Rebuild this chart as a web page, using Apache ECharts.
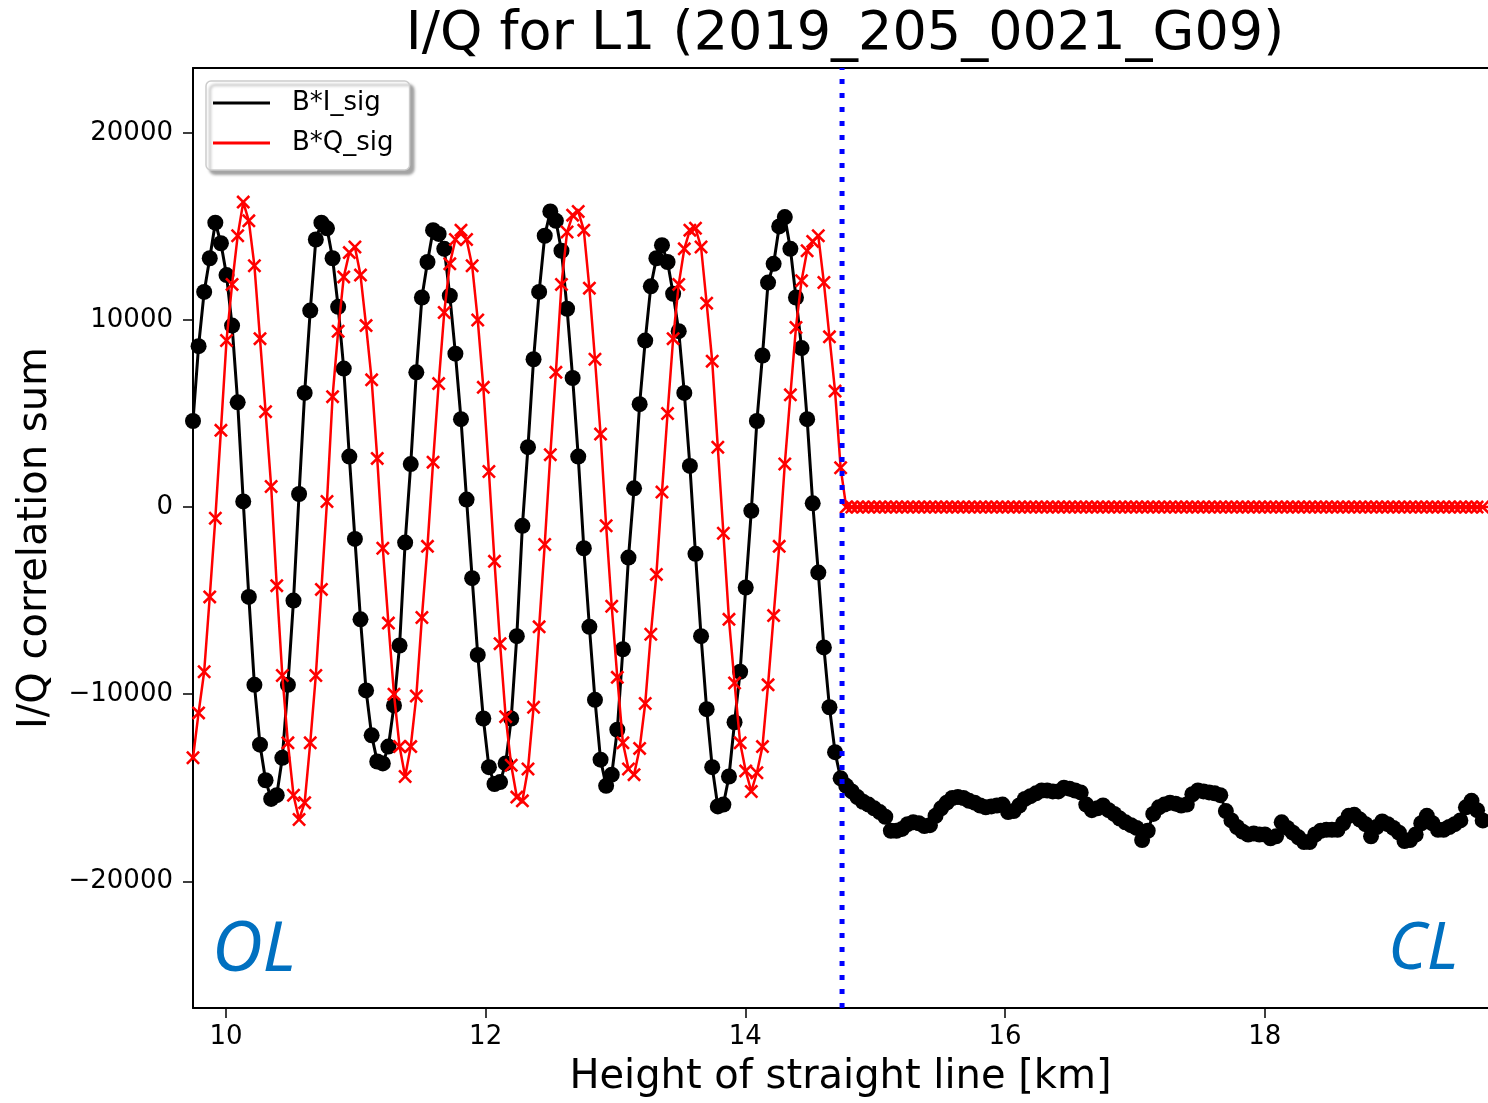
<!DOCTYPE html>
<html>
<head>
<meta charset="utf-8">
<script src="https://cdn.jsdelivr.net/npm/echarts/dist/echarts.min.js"></script>
<style>
html,body{margin:0;padding:0;background:#ffffff;}
#chart{width:1488px;height:1103px;}
</style>
</head>
<body>
<div id="chart"></div>
<script>
// ---------------- data ----------------
const titleText = 'I/Q for L1 (2019_205_0021_G09)';
const xAxisName = 'Height of straight line [km]';
const yAxisName = 'I/Q correlation sum';
const seriesNames = ['B*I_sig', 'B*Q_sig'];
const regionLabels = ['OL', 'CL'];
const xTickValues = [10, 12, 14, 16, 18];
const yTickValues = [-20000, -10000, 0, 10000, 20000];
const xLimits = [9.746, 19.72];
const yLimits = [-26773, 23467];
// samples are on a uniform height grid
const heightStart = 9.746;
const heightStep = 0.0430;
const loopSwitchHeight = 14.745;

// B*I_sig, open loop part (before the switch)
const iSigOpenLoop = [
  4600, 8600, 11500, 13300, 15200, 14100, 12400, 9700, 5600, 300,
  -4800, -9500, -12700, -14600, -15600, -15400, -13400, -9500, -5000, 700,
  6100, 10500, 14300, 15200, 14900, 13300, 10700, 7400, 2700, -1700,
  -6000, -9800, -12200, -13600, -13700, -12800, -10600, -7400, -1900, 2300,
  7200, 11200, 13100, 14800, 14600, 13800, 11300, 8200, 4700, 400,
  -3800, -7900, -11300, -13900, -14800, -14700, -13700, -11300, -6900, -1000,
  3200, 7900, 11500, 14500, 15800, 15300, 13700, 10600, 6900, 2700,
  -2200, -6400, -10300, -13500, -14900, -14300, -11900, -7600, -2700, 1000,
  5500, 8900, 11800, 13300, 14000, 13100, 11400, 9400, 6100, 2200,
  -2500, -6900, -10800, -13900, -16000, -15900, -14400, -11500, -8800, -4300,
  -200, 4600, 8100, 12000, 13000, 15000, 15500, 13800, 11200, 8500,
  4700, 200, -3500, -7500, -10700, -13100, -14500
];
// B*I_sig, closed loop part (after the switch)
const iSigClosedLoop = [
  -14900, -15200, -15500, -15750, -15900, -16100, -16300, -16550, -17300, -17300,
  -17200, -16950, -16850, -16900, -17050, -17000, -16500, -16100, -15800, -15550,
  -15500, -15550, -15700, -15800, -15950, -16050, -16000, -15950, -15900, -16300,
  -16250, -15950, -15600, -15450, -15300, -15150, -15150, -15200, -15200, -15000,
  -15050, -15150, -15250, -15900, -16200, -16100, -15950, -16200, -16400, -16650,
  -16850, -17000, -17150, -17800, -17300, -16400, -16050, -15900, -15800, -15850,
  -15950, -15900, -15350, -15150, -15200, -15250, -15300, -15400, -16250, -16750,
  -17100, -17350, -17500, -17450, -17500, -17500, -17700, -17600, -16850, -17150,
  -17400, -17650, -17900, -17900, -17500, -17300, -17250, -17250, -17250, -16900,
  -16500, -16450, -16700, -16950, -17600, -17100, -16800, -16950, -17150, -17400,
  -17850, -17800, -17500, -16900, -16500, -16900, -17250, -17250, -17100, -16950,
  -16750, -16050, -15700, -16200, -16750, -16900
];
// B*Q_sig, open loop part
const qSigOpenLoop = [
  -13400, -11000, -8800, -4800, -600, 4100, 8900, 11900, 14500, 16300,
  15300, 12900, 9000, 5100, 1100, -4200, -9000, -12600, -15400, -16700,
  -15800, -12600, -9000, -4400, 300, 5900, 9400, 12300, 13600, 13900,
  12400, 9700, 6800, 2600, -2200, -6200, -10000, -12800, -14400, -12800,
  -10100, -5900, -2100, 2400, 6600, 10400, 13000, 14300, 14800, 14300,
  12900, 10000, 6400, 1900, -2900, -7300, -11200, -13800, -15500, -15700,
  -14000, -10700, -6400, -2000, 2800, 7200, 11900, 14700, 15600, 15800,
  14800, 11700, 7900, 3900, -1000, -5300, -9100, -12600, -14000, -14300,
  -12900, -10500, -6800, -3600, 800, 5000, 9000, 11900, 13800, 14800,
  14900, 13900, 10900, 7800, 3200, -1400, -6000, -9400, -12600, -14100,
  -15200, -14200, -12800, -9500, -5800, -2100, 2300, 6000, 9600, 12100,
  13700, 14200, 14500, 12000, 9100, 6200, 2100
];
// B*Q_sig, closed loop part (flat at zero)
const qSigClosedLoop = [
  0, 0, 0, 0, 0, 0, 0, 0, 0, 0, 0, 0, 0, 0, 0, 0, 0, 0, 0, 0,
  0, 0, 0, 0, 0, 0, 0, 0, 0, 0, 0, 0, 0, 0, 0, 0, 0, 0, 0, 0,
  0, 0, 0, 0, 0, 0, 0, 0, 0, 0, 0, 0, 0, 0, 0, 0, 0, 0, 0, 0,
  0, 0, 0, 0, 0, 0, 0, 0, 0, 0, 0, 0, 0, 0, 0, 0, 0, 0, 0, 0,
  0, 0, 0, 0, 0, 0, 0, 0, 0, 0, 0, 0, 0, 0, 0, 0, 0, 0, 0, 0,
  0, 0, 0, 0, 0, 0, 0, 0, 0, 0, 0, 0, 0, 0, 0, 0
];

// ---------------- build ----------------
const iSig = iSigOpenLoop.concat(iSigClosedLoop);
const qSig = qSigOpenLoop.concat(qSigClosedLoop);
const toPairs = vals => vals.map((v, k) => [heightStart + k * heightStep, v]);

const FONT = '"DejaVu Sans", "Liberation Sans", sans-serif';
const crossSymbol = 'path://M0,13 L13,0 L50,37 L87,0 L100,13 L63,50 L100,87 L87,100 L50,63 L13,100 L0,87 L37,50 Z';
const fmtY = v => (v < 0 ? '\u2212' + Math.abs(v) : String(v));

const chart = echarts.init(document.getElementById('chart'), null, { renderer: 'canvas' });

const option = {
  animation: false,
  backgroundColor: '#ffffff',
  title: {
    text: titleText,
    left: 840,
    textAlign: 'center',
    top: 3,
    textStyle: { fontSize: 54, fontWeight: 'normal', fontFamily: FONT, color: '#000' }
  },
  legend: {
    data: seriesNames,
    orient: 'vertical',
    left: 206,
    top: 81,
    icon: 'rect',
    itemWidth: 57,
    itemHeight: 3,
    itemGap: 10,
    padding: [7, 16, 12, 7],
    backgroundColor: '#ffffff',
    borderColor: '#cccccc',
    borderWidth: 1.5,
    borderRadius: 5,
    shadowColor: 'rgba(0,0,0,0.35)',
    shadowBlur: 3,
    shadowOffsetX: 4,
    shadowOffsetY: 4,
    textStyle: { fontSize: 26, fontFamily: FONT, color: '#000', lineHeight: 30, padding: [0, 0, 0, 17] }
  },
  grid: { left: 193, top: 68, right: 0, bottom: 93, containLabel: false },
  xAxis: [
    {
      type: 'value',
      min: xLimits[0],
      max: xLimits[1],
      position: 'bottom',
      name: xAxisName,
      nameLocation: 'middle',
      nameGap: 50,
      nameTextStyle: { fontSize: 40, fontFamily: FONT, color: '#000' },
      axisLine: { show: true, onZero: false, lineStyle: { color: '#000', width: 2 } },
      axisTick: { show: true, inside: false, length: 10, customValues: xTickValues, lineStyle: { color: '#000', width: 1.5 } },
      axisLabel: { show: true, customValues: xTickValues, margin: 16, fontSize: 26, fontFamily: FONT, color: '#000' },
      splitLine: { show: false }
    },
    {
      type: 'value',
      min: xLimits[0],
      max: xLimits[1],
      position: 'top',
      axisLine: { show: true, onZero: false, lineStyle: { color: '#000', width: 2 } },
      axisTick: { show: false },
      axisLabel: { show: false },
      splitLine: { show: false }
    }
  ],
  yAxis: {
    type: 'value',
    min: yLimits[0],
    max: yLimits[1],
    name: yAxisName,
    nameLocation: 'middle',
    nameGap: 137,
    nameRotate: 90,
    nameTextStyle: { fontSize: 40, fontFamily: FONT, color: '#000' },
    axisLine: { show: true, onZero: false, lineStyle: { color: '#000', width: 2 } },
    axisTick: { show: true, inside: false, length: 10, customValues: yTickValues, lineStyle: { color: '#000', width: 1.5 } },
    axisLabel: { show: true, customValues: yTickValues, margin: 20, fontSize: 26, fontFamily: FONT, color: '#000', formatter: fmtY },
    splitLine: { show: false }
  },
  series: [
    {
      name: seriesNames[0],
      type: 'line',
      data: toPairs(iSig),
      symbol: 'circle',
      symbolSize: 16,
      showSymbol: true,
      showAllSymbol: true,
      clip: true,
      silent: true,
      z: 2,
      lineStyle: { color: '#000000', width: 3 },
      itemStyle: { color: '#000000', borderWidth: 0 }
    },
    {
      name: seriesNames[1],
      type: 'line',
      data: toPairs(qSig),
      symbol: crossSymbol,
      symbolSize: 14,
      showSymbol: true,
      showAllSymbol: true,
      clip: true,
      silent: true,
      z: 3,
      lineStyle: { color: '#ff0000', width: 2.5 },
      itemStyle: { color: '#ff0000', borderWidth: 0 }
    },
    {
      name: 'switch',
      type: 'line',
      data: [[loopSwitchHeight, yLimits[0]], [loopSwitchHeight, yLimits[1]]],
      symbol: 'none',
      silent: true,
      z: 5,
      lineStyle: { color: '#0000ff', width: 5, type: [5, 9], cap: 'butt' }
    }
  ],
  graphic: [
    {
      type: 'text',
      left: 212,
      top: 916,
      z: 10,
      style: { text: regionLabels[0], font: 'italic 70px "Noto Sans", sans-serif', fill: '#0070c0' }
    },
    {
      type: 'text',
      left: 1388,
      top: 917,
      z: 10,
      style: { text: regionLabels[1], font: 'italic 66px "Noto Sans", sans-serif', fill: '#0070c0' }
    }
  ]
};
chart.setOption(option);
</script>
</body>
</html>
